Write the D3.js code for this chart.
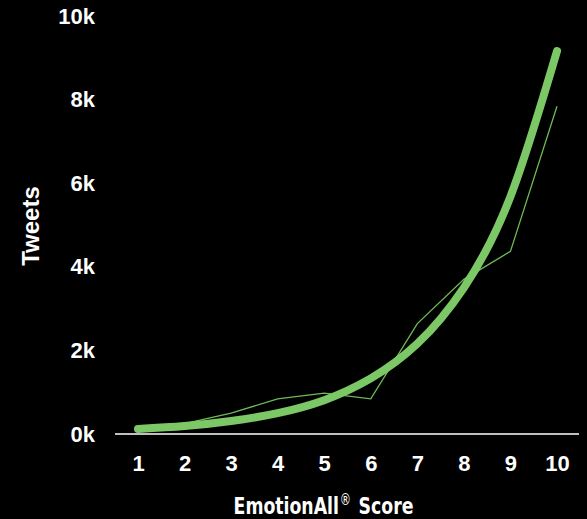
<!DOCTYPE html>
<html>
<head>
<meta charset="utf-8">
<script src="https://cdn.jsdelivr.net/npm/d3@7"></script>
<style>
  html, body { margin: 0; padding: 0; background: #000; }
  svg { display: block; }
</style>
</head>
<body>
<svg id="chart" width="587" height="519"></svg>
<script>
// Data (values in thousands of tweets)
const scores = [1, 2, 3, 4, 5, 6, 7, 8, 9, 10];
const tweetsActual = [0.12, 0.25, 0.5, 0.84, 0.98, 0.84, 2.64, 3.7, 4.37, 7.84];
const tweetsTrend = [0.12, 0.19, 0.31, 0.5, 0.81, 1.33, 2.16, 3.5, 5.68, 9.16];
const yTicks = [0, 2, 4, 6, 8, 10];
const yTickLabels = ["0k", "2k", "4k", "6k", "8k", "10k"];

const svg = d3.select("#chart");
const x = d3.scaleLinear().domain([1, 10]).range([138, 557]);
const y = d3.scaleLinear().domain([0, 10]).range([434, 16]);

svg.append("rect").attr("width", 587).attr("height", 519).attr("fill", "#000");

const tickFont = "Liberation Sans, Arial, sans-serif";

// Y axis labels (no line)
const yAxis = d3.axisLeft(y).tickValues(yTicks)
  .tickFormat((d, i) => yTickLabels[i]).tickSize(0).tickPadding(0);
const gy = svg.append("g").attr("transform", "translate(95,0)").call(yAxis);
gy.select(".domain").remove();
gy.selectAll("text")
  .attr("fill", "#fff")
  .attr("font-family", tickFont)
  .attr("font-weight", "bold")
  .attr("font-size", "22px");

// X axis
const xAxis = d3.axisBottom(x).tickValues(scores).tickFormat(d3.format("d"))
  .tickSize(0).tickPadding(21);
const gx = svg.append("g").attr("transform", "translate(0,434)").call(xAxis);
gx.select(".domain").remove();
gx.selectAll("text")
  .attr("fill", "#fff")
  .attr("font-family", tickFont)
  .attr("font-weight", "bold")
  .attr("font-size", "22px");
gx.append("line")
  .attr("x1", 115).attr("x2", 579).attr("y1", 0).attr("y2", 0)
  .attr("stroke", "#fff").attr("stroke-width", 1.5);

// Actual line (thin)
const line = d3.line().x((d, i) => x(scores[i])).y(d => y(d));
svg.append("path")
  .datum(tweetsActual)
  .attr("d", line)
  .attr("fill", "none")
  .attr("stroke", "#6dbb57")
  .attr("stroke-width", 1.3)
  .attr("stroke-linejoin", "miter");

// Trend curve (thick)
const trendLine = d3.line().x((d, i) => x(scores[i])).y(d => y(d)).curve(d3.curveNatural);
svg.append("path")
  .datum(tweetsTrend)
  .attr("d", trendLine)
  .attr("fill", "none")
  .attr("stroke", "#7cc866")
  .attr("stroke-width", 8)
  .attr("stroke-linecap", "round");

// Axis titles
svg.append("text")
  .attr("transform", "translate(39,226) rotate(-90)")
  .attr("text-anchor", "middle")
  .attr("fill", "#fff")
  .attr("font-family", tickFont)
  .attr("font-weight", "bold")
  .attr("font-size", "24px")
  .text("Tweets");

const xt = svg.append("text")
  .attr("x", 0).attr("y", 0)
  .attr("text-anchor", "middle")
  .attr("fill", "#fff")
  .attr("font-family", "DejaVu Sans Condensed, DejaVu Sans, sans-serif")
  .attr("font-stretch", "condensed")
  .attr("font-weight", "bold")
  .attr("font-size", "23px");
xt.append("tspan").text("EmotionAll");
xt.append("tspan").attr("dy", -9).attr("dx", 1).attr("font-size", "15px")
  .attr("font-weight", "normal").text("®");
xt.append("tspan").attr("dy", 9).attr("dx", 9).text("Score");
const w = xt.node().getComputedTextLength() + 10;
const sx = 180 / w;
xt.attr("transform", `translate(323.5,514) scale(${sx},1)`);
</script>
</body>
</html>
